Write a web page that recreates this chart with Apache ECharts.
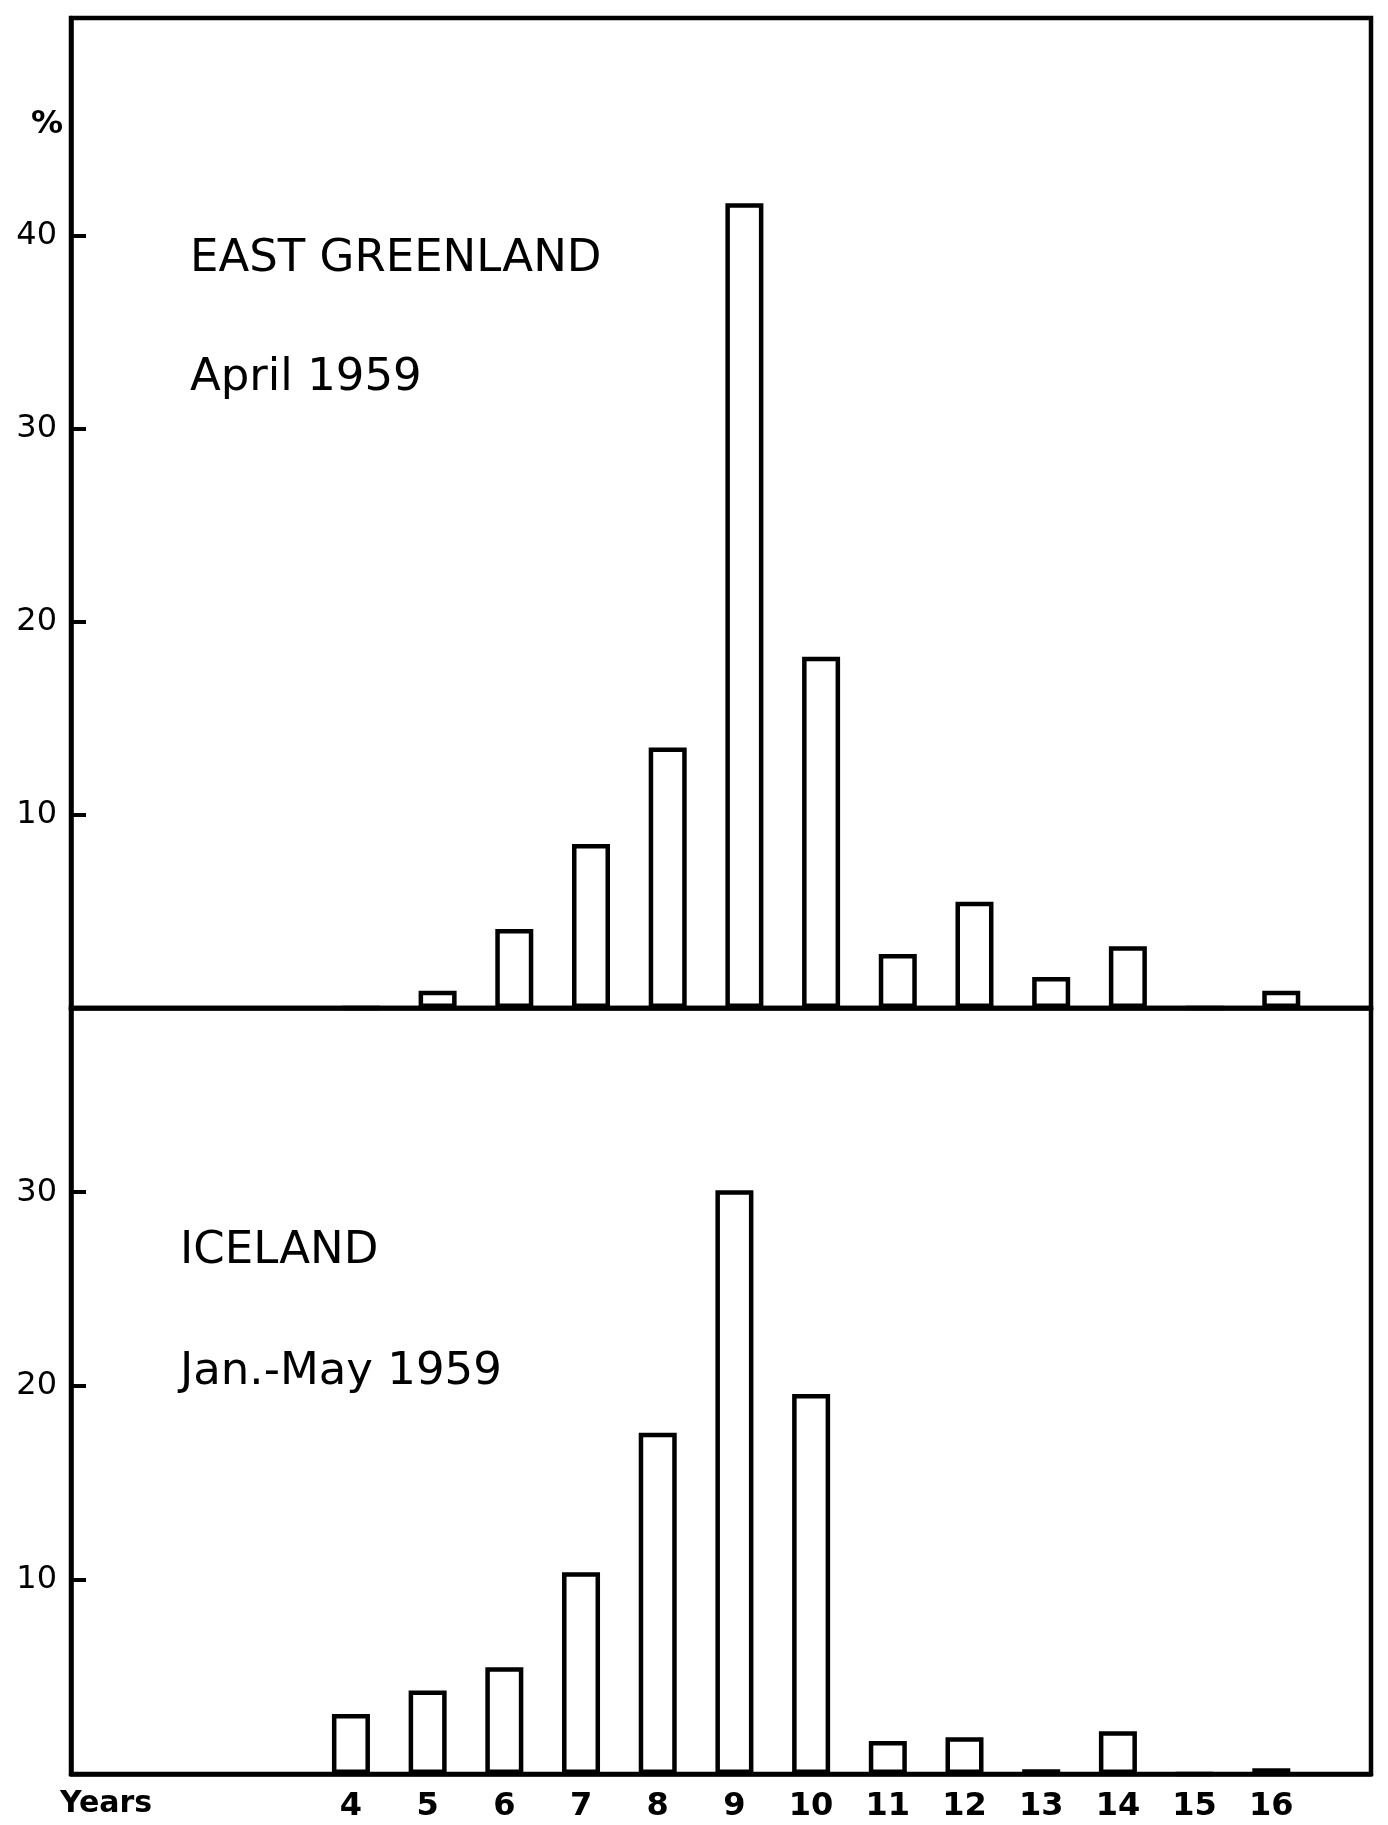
<!DOCTYPE html>
<html>
<head>
<meta charset="utf-8">
<script src="https://cdn.jsdelivr.net/npm/echarts@6/dist/echarts.min.js"></script>
<style>
html,body{margin:0;padding:0;background:#fff;}
#chart{width:1388px;height:1825px;}
</style>
</head>
<body>
<div id="chart"></div>
<script>
// Age groups (years)
const ages = [4, 5, 6, 7, 8, 9, 10, 11, 12, 13, 14, 15, 16];
// East Greenland, April 1959 (%)
const eastGreenland = [0, 0.9, 4.1, 8.5, 13.5, 41.7, 18.2, 2.8, 5.5, 1.6, 3.2, 0, 0.9];
// Iceland, Jan.-May 1959 (%)
const iceland = [3.1, 4.3, 5.5, 10.4, 17.6, 30.1, 19.6, 1.7, 1.9, 0.25, 2.2, 0, 0.3];
// Y tick labels
const topTicks = [10, 20, 30, 40];
const bottomTicks = [10, 20, 30];
// Panel labels
const panelTitles = ['EAST GREENLAND', 'April 1959', 'ICELAND', 'Jan.-May 1959'];
const unitLabel = '%';
const xName = 'Years';

const chart = echarts.init(document.getElementById('chart'), null, {renderer: 'canvas'});
const FONT = 'DejaVu Sans';
const black = '#000';

function yAxisDef(gridIndex, max, ticks) {
  return {
    type: 'value', gridIndex: gridIndex, min: 0, max: max, interval: 10,
    splitLine: {show: false},
    axisLine: {show: true, lineStyle: {color: black, width: 4.5}},
    axisTick: {show: false},
    axisLabel: {show: true, customValues: ticks, color: black, fontSize: 32, fontFamily: FONT, margin: 14,
      formatter: v => String(v)},
    z: 5
  };
}
// tick-only companion axis (same scale, no labels)
function yTickAxisDef(gridIndex, max, ticks) {
  return {
    type: 'value', gridIndex: gridIndex, position: 'left', min: 0, max: max, interval: 10,
    splitLine: {show: false},
    axisLine: {show: false},
    axisTick: {show: true, inside: true, length: 15, lineStyle: {color: black, width: 4}, customValues: ticks},
    axisLabel: {show: false},
    z: 6
  };
}
function barSeries(xi, yi, values) {
  return {
    type: 'bar', xAxisIndex: xi, yAxisIndex: yi,
    data: ages.map((a, i) => [a, values[i]]),
    barWidth: 38,
    itemStyle: {color: '#fff', borderColor: black, borderWidth: 4.5},
    z: 3
  };
}
const titleStyle = {fontSize: 45, fontWeight: 'normal', color: black, fontFamily: FONT};

chart.setOption({
  animation: false,
  backgroundColor: '#fff',
  title: [
    {text: panelTitles[0], left: 190, top: 237, padding: 0, textStyle: titleStyle},
    {text: panelTitles[1], left: 190, top: 356, padding: 0, textStyle: titleStyle},
    {text: panelTitles[2], left: 180, top: 1229, padding: 0, textStyle: titleStyle},
    {text: panelTitles[3], left: 180, top: 1350, padding: 0, textStyle: titleStyle},
    {text: unitLabel, left: 31, top: 109, padding: 0, textStyle: {fontSize: 32, fontWeight: 'bold', color: black, fontFamily: FONT}},
    {text: xName, left: 60, top: 1789, padding: 0, textStyle: {fontSize: 30, fontWeight: 'bold', color: black, fontFamily: FONT}}
  ],
  grid: [
    {left: 71, top: 18, width: 1300, height: 990, show: true, borderColor: black, borderWidth: 4.5, backgroundColor: 'transparent'},
    {left: 71, top: 1008, width: 1300, height: 766, show: true, borderColor: black, borderWidth: 4.5, backgroundColor: 'transparent'}
  ],
  xAxis: [
    {type: 'value', gridIndex: 0, min: 0.22, max: 17.17, splitLine: {show: false},
      axisLine: {show: true, lineStyle: {color: black, width: 4.5}}, axisTick: {show: false}, axisLabel: {show: false}},
    {type: 'value', gridIndex: 1, min: 0.35, max: 17.3, splitLine: {show: false},
      axisLine: {show: true, lineStyle: {color: black, width: 4.5}}, axisTick: {show: false},
      axisLabel: {show: true, customValues: ages, color: black, fontSize: 32, fontWeight: 'bold', fontFamily: FONT, margin: 17,
        formatter: v => String(v)}}
  ],
  yAxis: [
    yAxisDef(0, 51.3, topTicks),
    yAxisDef(1, 39.5, bottomTicks),
    yTickAxisDef(0, 51.3, topTicks),
    yTickAxisDef(1, 39.5, bottomTicks)
  ],
  series: [
    barSeries(0, 0, eastGreenland),
    barSeries(1, 1, iceland)
  ]
});
</script>
</body>
</html>
